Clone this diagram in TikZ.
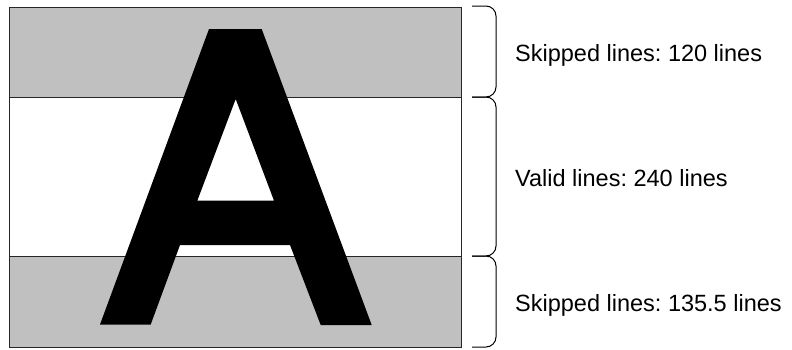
\documentclass[tikz,border=0pt]{standalone}
\usepackage{fontspec}
\setmainfont{Liberation Sans}
\frenchspacing
\definecolor{bandgray}{HTML}{C0C0C0}
\tikzset{
  band/.style={fill=bandgray, draw=none},
  sepline/.style={draw=black!85, line width=1pt},
  frame/.style={draw=black!85, line width=1pt},
  letter/.style={fill=black, draw=none, even odd rule},
  bracket/.style={draw=black, line width=1pt, rounded corners=10pt},
  lbl/.style={inner sep=0pt, anchor=base west, font=\fontsize{23.5}{28}\selectfont}
}
\begin{document}
\begin{tikzpicture}[x=1pt, y=-1pt]
\useasboundingbox (0,0) rectangle (792,349);
% bands
\fill[band] (9,7) rectangle (461,97);
\fill[white] (9,97) rectangle (461,256);
\fill[band] (9,256) rectangle (461,347);
\draw[sepline] (9,97) -- (461,97);
\draw[sepline] (9,256) -- (461,256);
% letter A
\fill[letter] (209,29) -- (261.7,29) -- (371.7,325) -- (320.7,325) -- (290,245) -- (180,245) -- (150.7,324.5) -- (100,324.5) -- cycle
  (235.7,99) -- (274,200.7) -- (197.3,200.7) -- cycle;
% frame
\draw[frame] (9,7) rectangle (461,347);
% brackets
\coordinate (b0) at (472,6);
\coordinate (b1) at (472,97);
\coordinate (b2) at (472,256);
\coordinate (b3) at (472,347);
\draw[bracket] (b0) -| (496,97) -- (b1);
\draw[bracket] (b1) -| (496,256) -- (b2);
\draw[bracket] (b2) -| (496,347) -- (b3);
% labels
\node[lbl] (t1) at (515,61) {Skipped lines: 120 lines};
\node[lbl] (t2) at (515,186) {Valid lines: 240 lines};
\node[lbl] (t3) at (515,311) {Skipped lines: 135.5 lines};
\end{tikzpicture}
\end{document}
